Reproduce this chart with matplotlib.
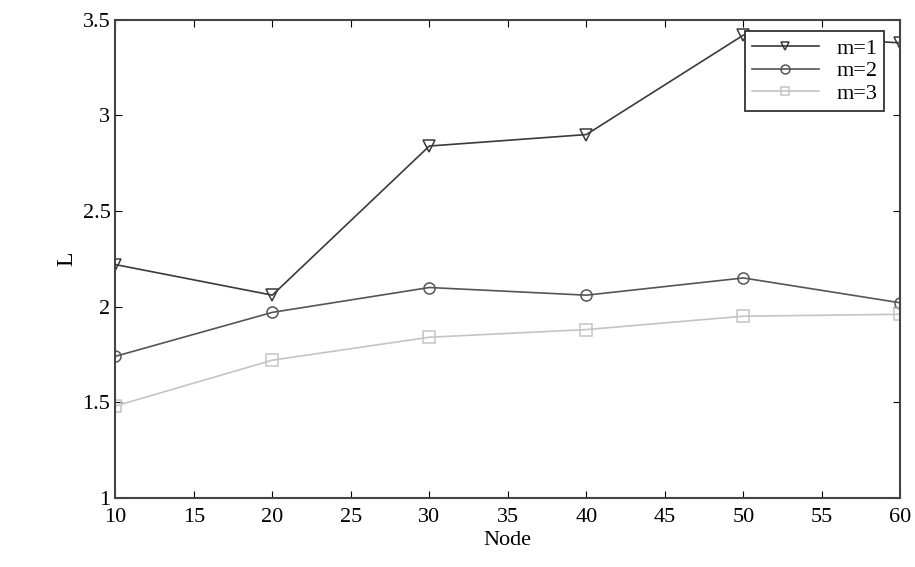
import numpy as np
import matplotlib
matplotlib.use("Agg")
import matplotlib.pyplot as plt

nodes = [10, 20, 30, 40, 50, 60]
m1 = [2.22, 2.06, 2.84, 2.90, 3.42, 3.38]
m2 = [1.74, 1.97, 2.10, 2.06, 2.15, 2.02]
m3 = [1.48, 1.72, 1.84, 1.88, 1.95, 1.96]

plt.rcParams['font.family'] = 'serif'
plt.rcParams['font.serif'] = ['Liberation Serif', 'DejaVu Serif']

fig = plt.figure(figsize=(9.15, 5.67), dpi=100)
ax = fig.add_axes([0.126, 0.122, 0.858, 0.843])

ax.plot(nodes, m1, color='#3a3a3a', lw=1.2, marker='v', ms=8, mfc='none', mew=1.1, label='m=1')
ax.plot(nodes, m2, color='#555555', lw=1.2, marker='o', ms=8, mfc='none', mew=1.1, label='m=2')
ax.plot(nodes, m3, color='#c4c4c4', lw=1.2, marker='s', ms=8, mfc='none', mew=1.1, label='m=3')

ax.set_xlim(10, 60)
ax.set_ylim(1, 3.5)
ax.set_xticks(np.arange(10, 61, 5))
ax.set_yticks([1, 1.5, 2, 2.5, 3, 3.5])
ax.set_yticklabels(['1', '1.5', '2', '2.5', '3', '3.5'])
ax.tick_params(direction='in', top=True, right=True, labelsize=16, length=5)
ax.tick_params(axis='x', pad=7)
for s in ax.spines.values():
    s.set_linewidth(1.5)
    s.set_color('#444444')

ax.set_xlabel('Node', fontsize=16, labelpad=3)
ax.set_ylabel('L', fontsize=17)

leg = ax.legend(loc='upper right', bbox_to_anchor=(0.985, 0.985), fontsize=16,
                fancybox=False, edgecolor='#333333', framealpha=1,
                handlelength=3, borderaxespad=0.2, labelspacing=0.1,
                borderpad=0.3, markerscale=0.8)
leg.get_frame().set_linewidth(1.3)

fig.savefig('out.png', dpi=100)
